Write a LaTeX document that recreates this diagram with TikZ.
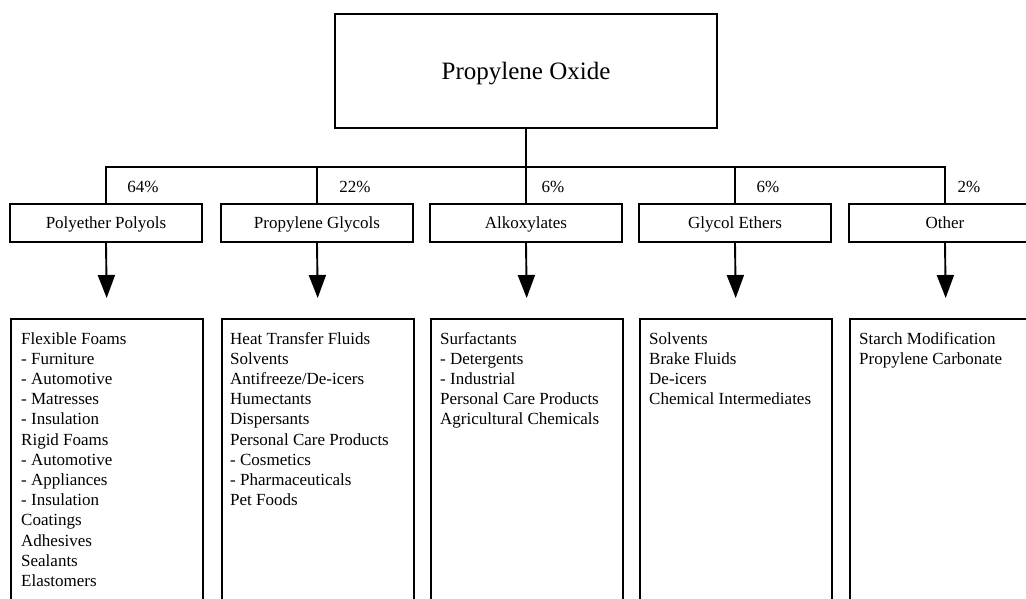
\documentclass[tikz,border=0pt]{standalone}
\usepackage{fontspec}
\setmainfont{Liberation Serif}
\usetikzlibrary{arrows.meta}
\begin{document}
\begin{tikzpicture}[x=1pt,y=-1pt,
  every node/.style={font=\fontsize{17}{20.2}\selectfont},
  ln/.style={line width=1.9pt},
  topbox/.style={draw,line width=1.9pt,minimum width=382pt,minimum height=114pt,inner sep=0pt,text depth=0pt,font=\fontsize{25}{30}\selectfont},
  midbox/.style={draw,line width=1.9pt,minimum width=192pt,minimum height=38pt,inner sep=0pt,text depth=0pt},
  listbox/.style={draw,line width=1.9pt,minimum width=192pt,minimum height=300pt,inner sep=0pt,anchor=north west},
  listtext/.style={anchor=north west,inner sep=0pt,align=left},
  pct/.style={inner sep=0pt},
  arr/.style={line width=1.9pt,-{Triangle[length=23pt,width=17pt]},shorten >=20pt}
]
\clip (0,0) rectangle (1026,598);
\fill[white] (0,0) rectangle (1026,598);

\node[topbox] (po) at (526,71) {Propylene Oxide};

\node[midbox] (m1) at (106,223) {Polyether Polyols};
\node[midbox] (m2) at (317,223) {Propylene Glycols};
\node[midbox] (m3) at (526,223) {Alkoxylates};
\node[midbox] (m4) at (735,223) {Glycol Ethers};
\node[midbox] (m5) at (945,223) {Other};

\coordinate (bus) at (526,167);
\draw[ln] (po.south) -- (bus);
\draw[ln] (m1.north) |- (bus) -| (m5.north);
\draw[ln] (m2.north) -- (m2.north |- bus);
\draw[ln] (m3.north) -- (m3.north |- bus);
\draw[ln] (m4.north) -- (m4.north |- bus);

\node[pct] (p1) at (143,187) {64\%};
\node[pct] (p2) at (355,187) {22\%};
\node[pct] (p3) at (553,187) {6\%};
\node[pct] (p4) at (768,187) {6\%};
\node[pct] (p5) at (969,187) {2\%};

\node[listbox] (b1) at (10,318) {};
\node[listbox] (b2) at (221,318) {};
\node[listbox] (b3) at (430,318) {};
\node[listbox] (b4) at (639,318) {};
\node[listbox] (b5) at (849,318) {};

\draw[arr] (m1.south) -- (b1.north);
\draw[arr] (m2.south) -- (b2.north);
\draw[arr] (m3.south) -- (b3.north);
\draw[arr] (m4.south) -- (b4.north);
\draw[arr] (m5.south) -- (b5.north);

\node[listtext] (t1) at (21,332) {Flexible Foams\\- Furniture\\- Automotive\\- Matresses\\- Insulation\\Rigid Foams\\- Automotive\\- Appliances\\- Insulation\\Coatings\\Adhesives\\Sealants\\Elastomers};
\node[listtext] (t2) at (230,332) {Heat Transfer Fluids\\Solvents\\Antifreeze/De-icers\\Humectants\\Dispersants\\Personal Care Products\\- Cosmetics\\- Pharmaceuticals\\Pet Foods};
\node[listtext] (t3) at (440,332) {Surfactants\\- Detergents\\- Industrial\\Personal Care Products\\Agricultural Chemicals};
\node[listtext] (t4) at (649,332) {Solvents\\Brake Fluids\\De-icers\\Chemical Intermediates};
\node[listtext] (t5) at (859,332) {Starch Modification\\Propylene Carbonate};
\end{tikzpicture}
\end{document}
